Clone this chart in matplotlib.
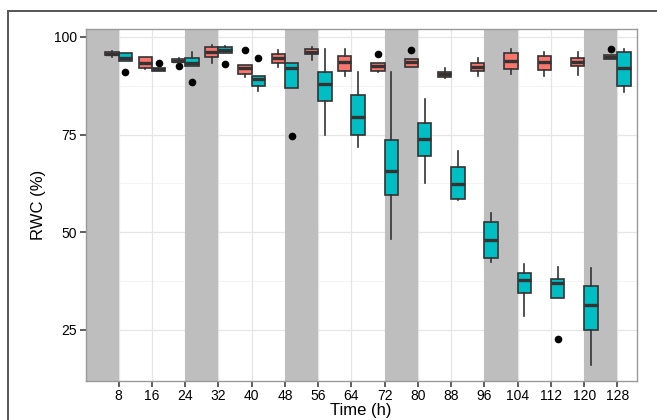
import matplotlib
matplotlib.use("Agg")
import matplotlib.pyplot as plt
from matplotlib.patches import Rectangle

plt.rcParams["font.family"] = ["Liberation Sans", "DejaVu Sans"]

times = [8, 16, 24, 32, 40, 48, 56, 64, 72, 80, 88, 96, 104, 112, 120, 128]
night_starts = [0, 24, 48, 72, 96, 120]

# first group (red boxes)
red_q1 = [95.3, 91.9, 93.6, 94.9, 90.6, 93.2, 95.6, 91.3, 91.3, 92.4, 89.8, 91.3, 91.7, 91.5, 92.5, 94.2]
red_med = [95.6, 93.35, 93.9, 96.2, 92.0, 94.5, 96.2, 93.6, 92.6, 93.6, 90.4, 92.4, 93.8, 93.6, 93.6, 94.8]
red_q3 = [96.0, 94.9, 94.4, 97.4, 92.8, 95.6, 96.9, 95.1, 93.3, 94.3, 91.0, 93.4, 95.75, 95.1, 94.6, 95.3]
red_lo = [94.9, 91.65, 93.6, 93.2, 89.6, 92.3, 94.0, 89.9, 90.9, 92.2, 89.4, 89.9, 90.5, 89.9, 90.2, 94.2]
red_hi = [96.3, 94.9, 94.5, 97.9, 92.8, 96.6, 97.3, 96.8, 93.3, 94.3, 91.9, 94.5, 96.8, 96.0, 96.2, 95.3]
red_out = [[], [], [92.6], [], [96.6], [], [], [], [95.6], [96.7], [], [], [], [], [], [97.0]]

# second group (cyan boxes)
cyan_q1 = [93.9, 91.3, 92.5, 95.9, 87.5, 86.8, 83.6, 74.85, 59.6, 69.5, 58.6, 43.3, 34.5, 33.2, 25.0, 87.5]
cyan_med = [94.7, 91.7, 93.4, 96.6, 89.1, 91.9, 87.8, 79.5, 65.6, 73.9, 62.3, 47.9, 37.7, 36.9, 31.35, 91.9]
cyan_q3 = [95.75, 92.1, 94.5, 97.4, 89.9, 93.4, 91.0, 85.1, 73.6, 77.9, 66.8, 52.7, 39.6, 38.0, 36.2, 96.0]
cyan_lo = [93.9, 91.3, 92.5, 95.9, 86.1, 86.8, 74.8, 71.7, 48.2, 62.5, 58.2, 42.3, 28.5, 33.2, 16.0, 85.8]
cyan_hi = [95.75, 92.1, 96.2, 97.6, 89.9, 93.4, 97.0, 90.9, 90.9, 84.0, 70.7, 55.0, 41.8, 41.0, 40.9, 97.0]
cyan_out = [[90.9], [93.2], [88.5], [93.0], [94.5], [74.6], [], [], [], [], [], [], [], [22.6], [], []]

RED = "#F8766D"
CYAN = "#00BFC4"
EDGE = "#333333"


def make_stats(q1, med, q3, lo, hi, out):
    return [dict(q1=a, med=b, q3=c, whislo=d, whishi=e, fliers=f)
            for a, b, c, d, e, f in zip(q1, med, q3, lo, hi, out)]


fig = plt.figure(figsize=(6.57, 4.2), dpi=100)
ax = fig.add_axes([85.5 / 657, 1 - 380.7 / 420, 551.5 / 657, 351.7 / 420])

# grid
for y in [25, 50, 75, 100]:
    ax.axhline(y, color="#E5E5E5", lw=0.9, zorder=0)
for y in [37.5, 62.5, 87.5]:
    ax.axhline(y, color="#F2F2F2", lw=0.6, zorder=0)
for t in times:
    ax.axvline(t, color="#E5E5E5", lw=0.9, zorder=0)

# night periods
for s in night_starts:
    ax.axvspan(s, s + 8, color="#BEBEBE", lw=0, zorder=1)

common = dict(widths=3.2, patch_artist=True, showcaps=False, manage_ticks=False,
              boxprops=dict(edgecolor=EDGE, linewidth=1.2),
              medianprops=dict(color=EDGE, linewidth=2.4),
              whiskerprops=dict(color=EDGE, linewidth=1.2),
              flierprops=dict(marker="o", markerfacecolor="black", markeredgecolor="black",
                              markersize=4.5), zorder=3)

b1 = ax.bxp(make_stats(red_q1, red_med, red_q3, red_lo, red_hi, red_out),
            positions=[t - 1.6 for t in times], **common)
b2 = ax.bxp(make_stats(cyan_q1, cyan_med, cyan_q3, cyan_lo, cyan_hi, cyan_out),
            positions=[t + 1.6 for t in times], **common)
for p in b1["boxes"]:
    p.set_facecolor(RED)
for p in b2["boxes"]:
    p.set_facecolor(CYAN)

ax.set_xlim(0, 132.7)
ax.set_ylim(12.0, 102.0)
ax.set_xticks(times)
ax.set_xticklabels([str(t) for t in times])
ax.set_yticks([25, 50, 75, 100])
ax.tick_params(axis="both", direction="out", length=4, width=1.1, color=EDGE,
               labelsize=10, labelcolor="black", pad=2)
for sp in ax.spines.values():
    sp.set_color("#9A9A9A")
    sp.set_linewidth(1.0)

ax.set_ylabel("RWC (%)", fontsize=12)
ax.yaxis.set_label_coords(-0.072, 0.5)
ax.set_xlabel("Time (h)", fontsize=12)
ax.xaxis.set_label_coords(0.5, -0.064)

# outer frame of the original figure
fig.patches.append(Rectangle((8 / 657, -0.5), 2, 0.5 + 1 - 11 / 420, transform=fig.transFigure,
                             fill=False, edgecolor="#555555", lw=1.4))

fig.savefig("out.png", dpi=100)
